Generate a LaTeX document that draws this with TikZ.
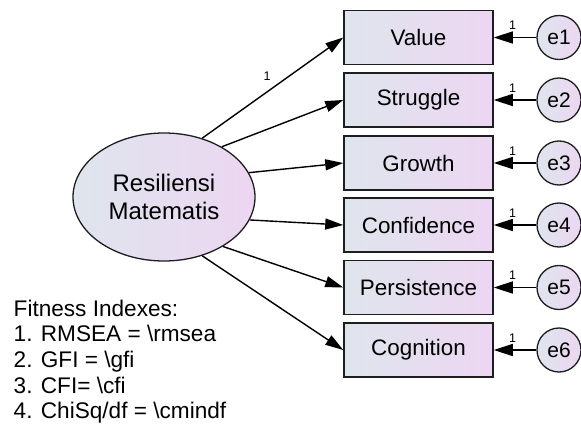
\documentclass[tikz,border=0pt]{standalone}
\usepackage{fontspec}
\setmainfont{Liberation Sans}
\usetikzlibrary{arrows.meta,shapes.geometric}
\definecolor{shadeL}{RGB}{223,229,237}
\definecolor{shadeR}{RGB}{236,214,242}
\definecolor{edgec}{RGB}{30,30,30}

\begin{document}
\begin{tikzpicture}[x=1pt,y=-1pt,
  obs/.style={draw=edgec, line width=1.5pt, left color=shadeL, right color=shadeR,
    minimum width=149pt, minimum height=54pt, inner sep=0pt,
    font=\fontsize{22.4}{26}\selectfont},
  err/.style={circle, draw=edgec, line width=1.3pt, left color=shadeL, right color=shadeR,
    minimum size=44pt, inner sep=0pt, font=\fontsize{21}{25}\selectfont},
  lat/.style={ellipse, draw=edgec, line width=1.3pt, left color=shadeL, right color=shadeR,
    minimum width=182pt, minimum height=128pt, inner sep=0pt, align=center,
    font=\fontsize{24}{28}\selectfont},
  load/.style={-{Triangle[length=18pt,width=11pt]}, line width=1.4pt},
  resid/.style={-{Triangle[length=19pt,width=12pt]}, line width=1.5pt},
  wt/.style={font=\fontsize{12.5}{14}\selectfont, inner sep=0pt}
]
\useasboundingbox[fill=white] (0,0) rectangle (581,425);

% latent factor
\node[lat] (RM) at (164,197) {Resiliensi\\Matematis};

% indicators, their error terms and the loadings
\foreach \name/\txt/\cy/\k/\ang in {v/Value/37.5/1/57, s/Struggle/100/2/41,
    g/Growth/163/3/16, c/Confidence/225/4/-15, p/Persistence/287.5/5/-40,
    k/Cognition/350/6/-57}{
  \node[obs] (\name) at (418.5,\cy) {\txt};
  \node[err] (e\k) at (559,\cy) {e\k};
  \draw[resid] (e\k) -- (\name);
  \node[wt] at (512.5,\cy-12) {1};
  \draw[load] (RM.\ang) -- (\name.west);
}

\node[wt] at (267,76) {1};

% fit statistics
\node[anchor=north west, align=left, inner sep=0pt,
  font=\fontsize{22.6}{25.7}\selectfont] (fit) at (13.5,299.5)
  {Fitness Indexes:\\1. RMSEA = \textbackslash rmsea\\2. GFI = \textbackslash gfi\\
   3. CFI= \textbackslash cfi\\4. ChiSq/df = \textbackslash cmindf};
\end{tikzpicture}
\end{document}
